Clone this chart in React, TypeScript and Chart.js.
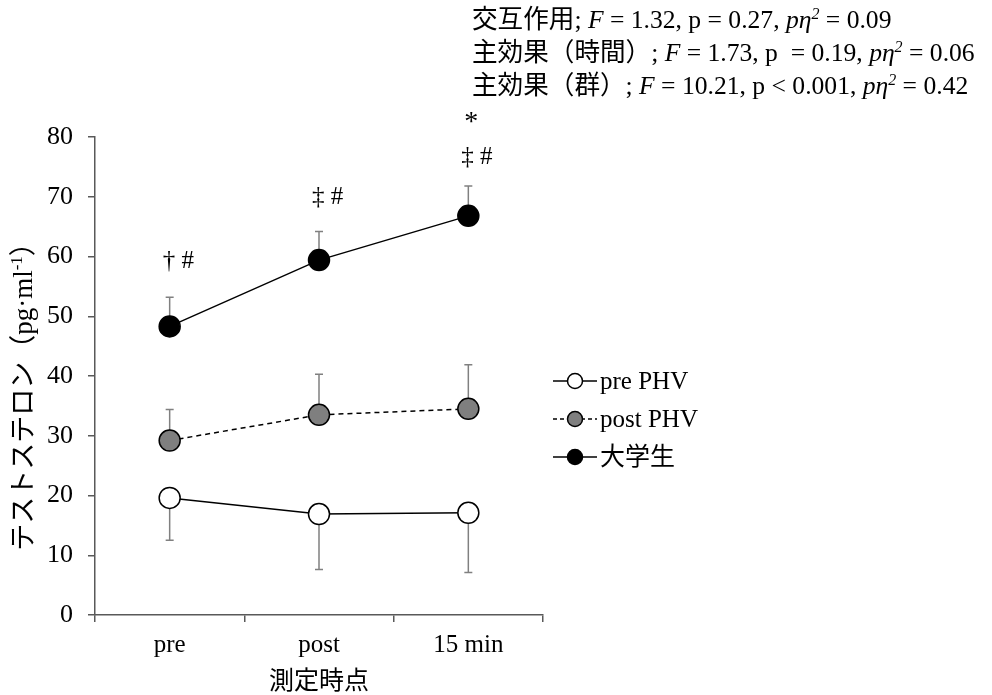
import { useEffect, useRef } from 'react';
import { Chart, registerables } from 'chart.js';

Chart.register(...registerables);

// Measurement timepoints
const categories = ['pre', 'post', '15 min'];

// Testosterone (pg·ml-1), means and one-sided SD
const prePHV = [19.6, 16.9, 17.1];
const prePHVSD = [7.1, 9.3, 10.0];
const postPHV = [29.2, 33.5, 34.5];
const postPHVSD = [5.2, 6.8, 7.4];
const univ = [48.3, 59.4, 66.8];
const univSD = [4.9, 4.8, 5.0];

const yMin = 0;
const yMax = 80;
const yStep = 10;

// Significance marks above the university-student series
const markText = ['† #', '‡ #', '‡ #'];
const markY = [59.2, 69.9, 76.6];
const starY = 83.3;

const SERIF = '"Liberation Serif", "Times New Roman", "Noto Sans CJK JP", serif';
const FS = 25;

type Run = { t: string; italic?: boolean; sup?: boolean };

function drawRuns(ctx: CanvasRenderingContext2D, runs: Run[], x: number, y: number, size: number, align: 'left' | 'center' = 'left') {
  const fontFor = (r: Run) => `${r.italic ? 'italic ' : ''}${r.sup ? Math.round(size * 0.62) : size}px ${SERIF}`;
  let total = 0;
  for (const r of runs) {
    ctx.font = fontFor(r);
    total += ctx.measureText(r.t).width;
  }
  let cx = align === 'center' ? x - total / 2 : x;
  ctx.textAlign = 'left';
  ctx.textBaseline = 'alphabetic';
  for (const r of runs) {
    ctx.font = fontFor(r);
    ctx.fillText(r.t, cx, r.sup ? y - size * 0.36 : y);
    cx += ctx.measureText(r.t).width;
  }
}

const statLines: Run[][] = [
  [{ t: '交互作用; ' }, { t: 'F', italic: true }, { t: ' = 1.32, p = 0.27, ' }, { t: 'pη', italic: true }, { t: '2', italic: true, sup: true }, { t: ' = 0.09' }],
  [{ t: '主効果（時間）; ' }, { t: 'F', italic: true }, { t: ' = 1.73, p  = 0.19, ' }, { t: 'pη', italic: true }, { t: '2', italic: true, sup: true }, { t: ' = 0.06' }],
  [{ t: '主効果（群）; ' }, { t: 'F', italic: true }, { t: ' = 10.21, p < 0.001, ' }, { t: 'pη', italic: true }, { t: '2', italic: true, sup: true }, { t: ' = 0.42' }],
];

const errorBars = {
  id: 'errorBars',
  beforeDatasetsDraw(chart: any) {
    const ctx = chart.ctx as CanvasRenderingContext2D;
    const y = chart.scales.y;
    ctx.save();
    ctx.strokeStyle = '#808080';
    ctx.lineWidth = 1.5;
    chart.data.datasets.forEach((ds: any, i: number) => {
      const meta = chart.getDatasetMeta(i);
      meta.data.forEach((pt: any, j: number) => {
        const v = ds.data[j];
        const end = v + ds.errDir * ds.sd[j];
        const py = y.getPixelForValue(v);
        const ey = y.getPixelForValue(end);
        ctx.beginPath();
        ctx.moveTo(pt.x, py);
        ctx.lineTo(pt.x, ey);
        ctx.moveTo(pt.x - 4, ey);
        ctx.lineTo(pt.x + 4, ey);
        ctx.stroke();
      });
    });
    ctx.restore();
  },
};

const annotations = {
  id: 'annotations',
  afterDraw(chart: any) {
    const ctx = chart.ctx as CanvasRenderingContext2D;
    const xs = chart.scales.x;
    const ys = chart.scales.y;
    ctx.save();
    ctx.fillStyle = '#000';

    // ANOVA summary
    statLines.forEach((line, i) => drawRuns(ctx, line, 472, 28 + i * 33, 25.6));

    // significance marks
    ctx.font = `${FS}px ${SERIF}`;
    ctx.textBaseline = 'middle';
    ctx.textAlign = 'left';
    markText.forEach((t, i) => {
      ctx.fillText(t, xs.getPixelForValue(i) - 7, ys.getPixelForValue(markY[i]));
    });
    ctx.textAlign = 'center';
    ctx.font = `28px ${SERIF}`;
    ctx.fillText('*', xs.getPixelForValue(2) + 3, ys.getPixelForValue(starY) + 5);

    // axis titles
    ctx.textAlign = 'center';
    ctx.textBaseline = 'middle';
    ctx.font = `${FS}px ${SERIF}`;
    ctx.fillText('測定時点', (chart.chartArea.left + chart.chartArea.right) / 2, 682);

    ctx.save();
    ctx.translate(23, 390);
    ctx.rotate(-Math.PI / 2);
    drawRuns(ctx, [{ t: 'テストステロン（pg·ml' }, { t: '-1', sup: true }, { t: '）' }], 0, 9, 27, 'center');
    ctx.restore();

    // legend
    const items = [
      { label: 'pre PHV', fill: '#ffffff', dash: [] as number[] },
      { label: 'post PHV', fill: '#7f7f7f', dash: [4, 3] },
      { label: '大学生', fill: '#000000', dash: [] as number[] },
    ];
    items.forEach((it, i) => {
      const cy = 381 + i * 38;
      ctx.strokeStyle = '#000';
      ctx.lineWidth = 1.5;
      ctx.setLineDash(it.dash);
      ctx.beginPath();
      ctx.moveTo(553, cy);
      ctx.lineTo(597, cy);
      ctx.stroke();
      ctx.setLineDash([]);
      ctx.beginPath();
      ctx.arc(575, cy, 7.5, 0, Math.PI * 2);
      ctx.fillStyle = it.fill;
      ctx.fill();
      ctx.stroke();
      ctx.fillStyle = '#000';
      ctx.textAlign = 'left';
      ctx.textBaseline = 'middle';
      ctx.font = `${FS}px ${SERIF}`;
      ctx.fillText(it.label, 600, cy + 1);
    });
    ctx.restore();
  },
};

export default function App() {
  const ref = useRef<HTMLCanvasElement>(null);

  useEffect(() => {
    if (!ref.current) return;
    const point = { pointRadius: 10.5, pointHoverRadius: 10.5, pointBorderWidth: 1.5, pointBorderColor: '#000' };
    const chart = new Chart(ref.current, {
      type: 'line',
      data: {
        labels: categories,
        datasets: [
          { label: 'pre PHV', data: prePHV, sd: prePHVSD, errDir: -1, borderColor: '#000', borderWidth: 1.5, pointBackgroundColor: '#ffffff', ...point } as any,
          { label: 'post PHV', data: postPHV, sd: postPHVSD, errDir: 1, borderColor: '#000', borderWidth: 1.5, borderDash: [5, 4], pointBackgroundColor: '#7f7f7f', ...point } as any,
          { label: '大学生', data: univ, sd: univSD, errDir: 1, borderColor: '#000', borderWidth: 1.5, pointBackgroundColor: '#000000', ...point } as any,
        ],
      },
      options: {
        responsive: false,
        animation: false,
        events: [],
        layout: { padding: { top: 137, right: 449, left: 0, bottom: 0 } },
        plugins: { legend: { display: false }, tooltip: { enabled: false } },
        scales: {
          x: {
            type: 'category',
            offset: true,
            afterFit: (s: any) => { s.height = 80; },
            grid: { offset: true, drawOnChartArea: false, tickLength: 7, color: '#595959', lineWidth: 1.5 },
            border: { color: '#595959', width: 1.5 },
            ticks: { color: '#000', font: { family: SERIF, size: FS }, padding: 8 },
          },
          y: {
            min: yMin,
            max: yMax,
            afterFit: (s: any) => { s.width = 95; },
            grid: { drawOnChartArea: false, tickLength: 7, color: '#595959', lineWidth: 1.5 },
            border: { color: '#595959', width: 1.5 },
            ticks: { stepSize: yStep, color: '#000', font: { family: SERIF, size: 26 }, padding: 15 },
          },
        },
      },
      plugins: [errorBars, annotations],
    });
    return () => chart.destroy();
  }, []);

  return (
    <div style={{ position: 'absolute', left: 0, top: 0, width: 992, height: 695, background: '#fff' }}>
      <canvas ref={ref} width={992} height={695} />
    </div>
  );
}
